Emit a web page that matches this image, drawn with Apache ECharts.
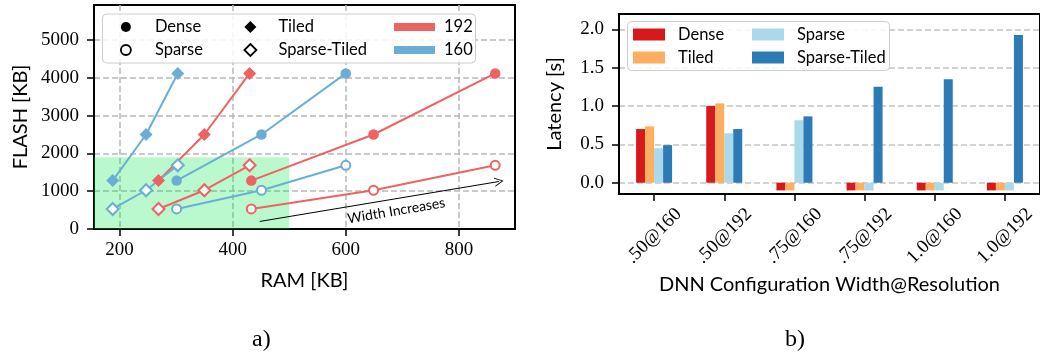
<!DOCTYPE html>
<html>
<head>
<meta charset="utf-8">
<script src="https://cdn.jsdelivr.net/npm/echarts@6/dist/echarts.min.js"></script>
<style>
  html, body { margin: 0; padding: 0; background: #fff; }
  #chart { width: 1040px; height: 358px; }
</style>
</head>
<body>
<div id="chart"></div>
<script>
// a) memory footprint, RAM vs FLASH [KB]
const ramDense192 = [433, 649, 864]
const ramDense160 = [301, 451, 600]
const ramTiled192 = [269, 350, 430]
const ramTiled160 = [188, 247, 303]
const flashDense = [1280, 2500, 4115]
const flashSparse = [530, 1025, 1685]
const ramTicks = [200, 400, 600, 800]
const flashTicks = [0, 1000, 2000, 3000, 4000, 5000]
const ramMin = 155
const ramMax = 899
const flashMax = 5925
const fitRam = 500 // green box = fits on the device
const fitFlash = 1900
const arrowFrom = [448, 200]
const arrowTo = [871, 1257]

// b) latency [s], -0.1 = configuration does not fit
const configs = ['.50@160', '.50@192', '.75@160', '.75@192', '1.0@160', '1.0@192']
const latDense = [0.70, 1.00, -0.1, -0.1, -0.1, -0.1]
const latTiled = [0.735, 1.035, -0.1, -0.1, -0.1, -0.1]
const latSparse = [0.45, 0.645, 0.815, -0.1, -0.1, -0.1]
const latSparseTiled = [0.49, 0.70, 0.865, 1.25, 1.35, 1.925]
const latTicks = [0, 0.5, 1.0, 1.5, 2.0]

const sans = 'Lato'
const serif = 'Liberation Serif'
const red = '#ef6262'
const blue = '#6aaed6'
const barColors = ['#d7191c', '#fdae61', '#abd9e9', '#2c7bb6']

const gridLine = { show: true, lineStyle: { color: '#b8b8b8', type: [6, 3], width: 1.5 } }
const axisLine = { show: true, onZero: false, lineStyle: { color: '#000', width: 2 } }
const axisTick = { show: true, length: 7, lineStyle: { color: '#000', width: 1.5 } }
const tickFont = { fontFamily: serif, fontSize: 19, color: '#000' }
const nameFont = { fontFamily: sans, fontSize: 20, color: '#000' }

function memSeries (ram, flash, color, symbol, size, hollow) {
  return {
    type: 'line',
    xAxisIndex: 0,
    yAxisIndex: 0,
    data: ram.map((x, i) => [x, flash[i]]),
    symbol: symbol,
    symbolSize: size,
    lineStyle: { color: color, width: 2 },
    itemStyle: hollow ? { color: '#fff', borderColor: color, borderWidth: 2 } : { color: color },
    z: 3
  }
}

// legend-only entries for the left plot (prefix stripped in formatter)
function dummy (name) {
  return { name: name, type: 'line', xAxisIndex: 0, yAxisIndex: 0, data: [] }
}

function barSeries (name, data, color) {
  return {
    name: name,
    type: 'bar',
    xAxisIndex: 1,
    yAxisIndex: 1,
    data: data,
    barWidth: 9,
    barGap: '0%',
    itemStyle: { color: color }
  }
}

const strip = name => name.slice(2)
const legendFont = { fontFamily: sans, fontSize: 16.5, color: '#000' }
const padText = left => Object.assign({ padding: [0, 0, 0, left] }, legendFont)
const patch = 'path://M0,0h32v12h-32z'

const chart = echarts.init(document.getElementById('chart'))

chart.setOption({
  animation: false,
  textStyle: { fontFamily: sans },
  title: [
    { text: 'a)', left: 252, top: 328, padding: 0, textStyle: { fontFamily: serif, fontSize: 24, fontWeight: 'normal', color: '#000' } },
    { text: 'b)', left: 785, top: 328, padding: 0, textStyle: { fontFamily: serif, fontSize: 24, fontWeight: 'normal', color: '#000' } }
  ],
  graphic: [
    { type: 'rect', z: 5, shape: { x: 102.5, y: 14, width: 373, height: 49, r: 4 }, style: { fill: 'rgba(255,255,255,0.85)', stroke: '#cccccc', lineWidth: 1 } },
    { type: 'rect', z: 5, shape: { x: 627.5, y: 21.5, width: 262, height: 49, r: 4 }, style: { fill: 'rgba(255,255,255,0.85)', stroke: '#cccccc', lineWidth: 1 } }
  ],
  legend: [
    {
      left: 120, top: 18.5, orient: 'vertical', padding: 0, itemGap: 6, z: 6,
      itemWidth: 10, itemHeight: 10, formatter: strip, textStyle: padText(19), selectedMode: false,
      data: [
        { name: 'L:Dense', icon: 'circle', itemStyle: { color: '#000', borderWidth: 0 } },
        { name: 'L:Sparse', icon: 'circle', itemStyle: { color: '#fff', borderColor: '#000', borderWidth: 1.8 } }
      ]
    },
    {
      left: 243.5, top: 18.5, orient: 'vertical', padding: 0, itemGap: 6, z: 6,
      itemWidth: 12, itemHeight: 12, formatter: strip, textStyle: padText(17), selectedMode: false,
      data: [
        { name: 'L:Tiled', icon: 'diamond', itemStyle: { color: '#000', borderWidth: 0 } },
        { name: 'L:Sparse-Tiled', icon: 'diamond', itemStyle: { color: '#fff', borderColor: '#000', borderWidth: 1.8 } }
      ]
    },
    {
      left: 394, top: 18.5, orient: 'vertical', padding: 0, itemGap: 6, z: 6,
      itemWidth: 41, itemHeight: 8, formatter: strip, textStyle: padText(4), selectedMode: false,
      data: [
        { name: 'L:192', icon: 'path://M0,0h41v8h-41z', itemStyle: { color: red, borderWidth: 0 } },
        { name: 'L:160', icon: 'path://M0,0h41v8h-41z', itemStyle: { color: blue, borderWidth: 0 } }
      ]
    },
    {
      left: 633, top: 26, orient: 'vertical', padding: 0, itemGap: 6, z: 6,
      itemWidth: 32, itemHeight: 12, textStyle: padText(8), selectedMode: false,
      data: [{ name: 'Dense', icon: patch }, { name: 'Tiled', icon: patch }]
    },
    {
      left: 752, top: 26, orient: 'vertical', padding: 0, itemGap: 6, z: 6,
      itemWidth: 32, itemHeight: 12, textStyle: padText(8), selectedMode: false,
      data: [{ name: 'Sparse', icon: patch }, { name: 'Sparse-Tiled', icon: patch }]
    }
  ],
  grid: [
    { left: 94, top: 5, width: 421, height: 224, show: true, borderColor: '#000', borderWidth: 2 },
    { left: 619, top: 14, width: 429, height: 180, show: true, borderColor: '#000', borderWidth: 2 }
  ],
  xAxis: [
    {
      type: 'value', gridIndex: 0, min: ramMin, max: ramMax, splitNumber: 4,
      axisLine: axisLine,
      axisTick: Object.assign({ customValues: ramTicks }, axisTick),
      axisLabel: Object.assign({ customValues: ramTicks, margin: 12, formatter: v => String(v) }, tickFont),
      splitLine: gridLine,
      name: 'RAM [KB]', nameLocation: 'middle', nameGap: 42, nameTextStyle: nameFont
    },
    {
      type: 'category', gridIndex: 1, data: configs,
      axisLine: axisLine,
      axisTick: Object.assign({ alignWithLabel: true }, axisTick),
      axisLabel: Object.assign({ interval: 0, rotate: 45, align: 'center', verticalAlign: 'middle', margin: 42 }, tickFont),
      splitLine: { show: false },
      name: 'DNN Configuration Width@Resolution', nameLocation: 'middle', nameGap: 81, nameTextStyle: nameFont
    }
  ],
  yAxis: [
    {
      type: 'value', gridIndex: 0, min: 0, max: flashMax, interval: 1000,
      axisLine: axisLine,
      axisTick: Object.assign({ customValues: flashTicks }, axisTick),
      axisLabel: Object.assign({ customValues: flashTicks, margin: 15, formatter: v => String(v) }, tickFont),
      splitLine: gridLine,
      name: 'FLASH [KB]', nameLocation: 'middle', nameGap: 63, nameTextStyle: nameFont
    },
    {
      type: 'value', gridIndex: 1, min: -0.147, max: 2.2, splitNumber: 5,
      axisLine: axisLine,
      axisTick: Object.assign({ customValues: latTicks }, axisTick),
      axisLabel: Object.assign({ customValues: latTicks, margin: 15, formatter: v => v.toFixed(1) }, tickFont),
      splitLine: { show: true, lineStyle: { color: '#c4c4c4', type: [6, 3], width: 1.5 } },
      name: 'Latency [s]', nameLocation: 'middle', nameGap: 54, nameTextStyle: nameFont
    }
  ],
  series: [
    {
      type: 'line', xAxisIndex: 0, yAxisIndex: 0, data: [], z: 1, silent: true,
      markArea: {
        silent: true,
        itemStyle: { color: 'rgba(0,232,70,0.27)' },
        data: [[{ coord: [ramMin, 0] }, { coord: [fitRam, fitFlash] }]]
      },
      markLine: {
        silent: true,
        symbol: ['none', 'path://M0,10 L5,0 L10,10 L9,10 L5,2 L1,10 Z'],
        symbolSize: [9, 9],
        lineStyle: { color: '#000', width: 1, type: 'solid' },
        label: {
          show: true, formatter: 'Width Increases', position: 'insideMiddleBottom',
          distance: 5, padding: [0, 0, 0, 30], fontFamily: sans, fontSize: 14, color: '#000'
        },
        data: [[{ coord: arrowFrom }, { coord: arrowTo }]]
      }
    },
    memSeries(ramDense192, flashDense, red, 'circle', 10.5, false),
    memSeries(ramDense192, flashSparse, red, 'circle', 9, true),
    memSeries(ramTiled192, flashDense, red, 'diamond', 13, false),
    memSeries(ramTiled192, flashSparse, red, 'diamond', 12, true),
    memSeries(ramDense160, flashDense, blue, 'circle', 10.5, false),
    memSeries(ramDense160, flashSparse, blue, 'circle', 9, true),
    memSeries(ramTiled160, flashDense, blue, 'diamond', 13, false),
    memSeries(ramTiled160, flashSparse, blue, 'diamond', 12, true),
    dummy('L:Dense'), dummy('L:Sparse'), dummy('L:Tiled'), dummy('L:Sparse-Tiled'), dummy('L:192'), dummy('L:160'),
    barSeries('Dense', latDense, barColors[0]),
    barSeries('Tiled', latTiled, barColors[1]),
    barSeries('Sparse', latSparse, barColors[2]),
    barSeries('Sparse-Tiled', latSparseTiled, barColors[3])
  ]
})
</script>
</body>
</html>
